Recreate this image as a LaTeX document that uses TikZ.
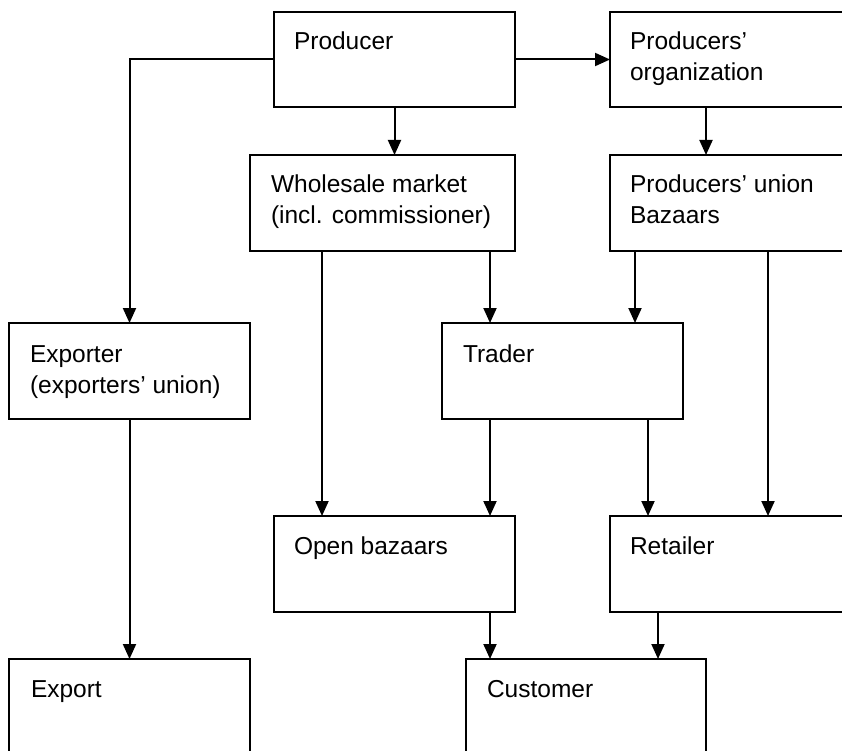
\documentclass[tikz,border=0pt]{standalone}
\usepackage{fontspec}
\setmainfont{Liberation Sans}
\usetikzlibrary{arrows.meta,calc}
\newcommand\mylines[2]{\vtop{\baselineskip=31pt\hbox{#1}\hbox{#2}}}
\begin{document}
\begin{tikzpicture}[x=1pt,y=-1pt,
  box/.style={draw=black, line width=2pt, inner sep=0pt, outer sep=0pt, minimum height=96pt},
  wbox/.style={box, minimum width=241pt},
  lbl/.style={anchor=base west, inner sep=0pt, outer sep=0pt, font=\fontsize{24.5pt}{31pt}\selectfont},
  arr/.style={draw=black, line width=2pt, -{Triangle[length=15pt,width=13pt]}}]
\useasboundingbox (0,0) rectangle (842,751);
\clip (0,0) rectangle (842,751);
% column coordinates
\coordinate (c322) at (322,0);
\coordinate (c490) at (490,0);
\coordinate (c635) at (635,0);
\coordinate (c648) at (648,0);
\coordinate (c658) at (658,0);
\coordinate (c706) at (706,0);
\coordinate (c768) at (768,0);
% boxes
\node[wbox, minimum height=95pt] (prod) at (394.5,59.5) {};
\node[wbox, minimum height=95pt] (org) at (730.5,59.5) {};
\node[box, minimum width=265pt] (wm) at (382.5,203) {};
\node[wbox] (union) at (730.5,203) {};
\node[wbox] (exp) at (129.5,371) {};
\node[wbox] (trader) at (562.5,371) {};
\node[wbox] (ob) at (394.5,564) {};
\node[wbox] (ret) at (730.5,564) {};
\node[wbox] (export) at (129.5,707) {};
\node[box, minimum width=240pt] (cust) at (586,707) {};
% labels
\node[lbl] (prodt) at ($(prod.north west)+(20,38)$) {Producer};
\node[lbl] (orgt) at ($(org.north west)+(20,38)$) {\mylines{Producers'}{organization}};
\node[lbl] (wmt) at ($(wm.north west)+(21,38)$) {\mylines{Wholesale market}{(incl. commissioner)}};
\node[lbl] (uniont) at ($(union.north west)+(20,38)$) {\mylines{Producers' union}{Bazaars}};
\node[lbl] (expt) at ($(exp.north west)+(21,39)$) {\mylines{Exporter}{(exporters' union)}};
\node[lbl] (tradert) at ($(trader.north west)+(21,39)$) {Trader};
\node[lbl] (obt) at ($(ob.north west)+(20,38)$) {Open bazaars};
\node[lbl] (rett) at ($(ret.north west)+(20,38)$) {Retailer};
\node[lbl] (exportt) at ($(export.north west)+(22,38)$) {Export};
\node[lbl] (custt) at ($(cust.north west)+(21,38)$) {Customer};
% connectors
\draw[arr] (prod.west) -| (exp.north);
\draw[arr] (prod.east) -- (org.west);
\draw[arr] (prod.south) -- (prod.south |- wm.north);
\draw[arr] (org.south -| c706) -- (union.north -| c706);
\draw[arr] (wm.south -| c322) -- (ob.north -| c322);
\draw[arr] (wm.south -| c490) -- (trader.north -| c490);
\draw[arr] (union.south -| c635) -- (trader.north -| c635);
\draw[arr] (union.south -| c768) -- (ret.north -| c768);
\draw[arr] (exp.south) -- (export.north);
\draw[arr] (trader.south -| c490) -- (ob.north -| c490);
\draw[arr] (trader.south -| c648) -- (ret.north -| c648);
\draw[arr] (ob.south -| c490) -- (cust.north -| c490);
\draw[arr] (ret.south -| c658) -- (cust.north -| c658);
\end{tikzpicture}
\end{document}
